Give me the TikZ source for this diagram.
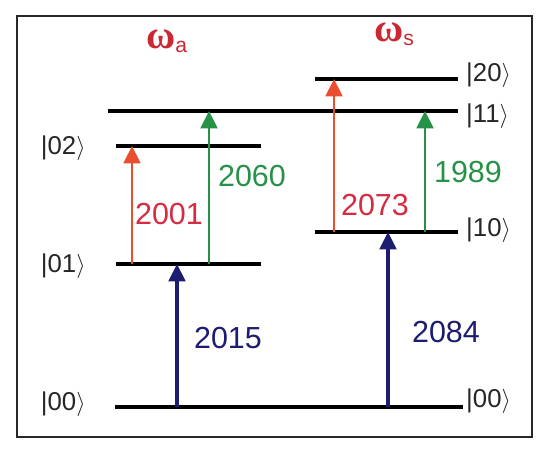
\documentclass[tikz,border=0pt]{standalone}
\usepackage{fontspec}
\setmainfont{Liberation Sans}
\newfontfamily\omegafont{Liberation Serif}
\usetikzlibrary{arrows.meta}
\definecolor{transred}{RGB}{234,78,48}
\definecolor{labelred}{RGB}{214,44,66}
\definecolor{omegared}{RGB}{204,40,52}
\definecolor{transgreen}{RGB}{38,146,72}
\definecolor{transblue}{RGB}{28,28,112}
\definecolor{framegray}{RGB}{40,40,40}
\newcommand{\wsub}[1]{{\omegafont\bfseries\fontsize{34}{36}\selectfont ω}\raisebox{-0.3em}{\fontsize{18}{18}\selectfont #1}}

\begin{document}
\begin{tikzpicture}[
  x=0.03cm, y=-0.03cm,
  level/.style={line width=2.6pt},
  up/.style={-{Triangle[length=5.2mm,width=5mm]}, line width=2.5pt},
  ket/.style={font=\fontsize{22}{24}\selectfont, text=black!85, inner sep=0pt},
  freq/.style={font=\fontsize{26}{30}\selectfont, inner sep=0pt},
  mode/.style={text=omegared, inner sep=0pt, anchor=base west}
]
\useasboundingbox (0,0) rectangle (550,458);
\draw[line width=1.8pt, draw=framegray] (17,16) rectangle (532,437);

\coordinate (g00w) at (115,407); \coordinate (g00e) at (463,407);
\coordinate (g01w) at (116,264); \coordinate (g01e) at (261,264);
\coordinate (g02w) at (116,146); \coordinate (g02e) at (261,146);
\coordinate (g11w) at (108,111); \coordinate (g11e) at (458,111);
\coordinate (g10w) at (315,232); \coordinate (g10e) at (458,232);
\coordinate (g20w) at (315,79);  \coordinate (g20e) at (458,79);
\foreach \g in {00,01,02,11,10,20} \draw[level] (g\g w) -- (g\g e);

\node[ket, anchor=east] (k02) at (86,148) {|02$\rangle$};
\node[ket, anchor=east] (k01) at (86,266) {|01$\rangle$};
\node[ket, anchor=east] (k00a) at (86,404) {|00$\rangle$};
\node[ket, anchor=west] (k20) at (466,75) {|20$\rangle$};
\node[ket, anchor=west] (k11) at (466,116) {|11$\rangle$};
\node[ket, anchor=west] (k10) at (466,230) {|10$\rangle$};
\node[ket, anchor=west] (k00s) at (466,401) {|00$\rangle$};

\node[mode] (wa) at (146,49) {\wsub{a}};
\node[mode] (ws) at (374,42) {\wsub{s}};

\coordinate (xa1) at (132,0); \coordinate (xa2) at (209,0); \coordinate (xa0) at (177,0);
\coordinate (xs1) at (334,0); \coordinate (xs2) at (425,0); \coordinate (xs0) at (388,0);

\draw[up, transred] (xa1 |- g01w) -- (xa1 |- g02w);
\draw[up, transgreen] (xa2 |- g01w) -- (xa2 |- g11w);
\draw[up, transblue, line width=2.6pt] (xa0 |- g00w) -- (xa0 |- g01w);
\draw[up, transred] (xs1 |- g10w) -- (xs1 |- g20w);
\draw[up, transgreen] (xs2 |- g10w) -- (xs2 |- g11w);
\draw[up, transblue, line width=2.6pt] (xs0 |- g00w) -- (xs0 |- g10w);

\node[freq, text=labelred] (f2001) at (169,214) {2001};
\node[freq, text=transgreen] (f2060) at (252,176) {2060};
\node[freq, text=transblue] (f2015) at (228,338) {2015};
\node[freq, text=labelred] (f2073) at (375,205) {2073};
\node[freq, text=transgreen] (f1989) at (468,172) {1989};
\node[freq, text=transblue] (f2084) at (446,332) {2084};
\end{tikzpicture}
\end{document}
